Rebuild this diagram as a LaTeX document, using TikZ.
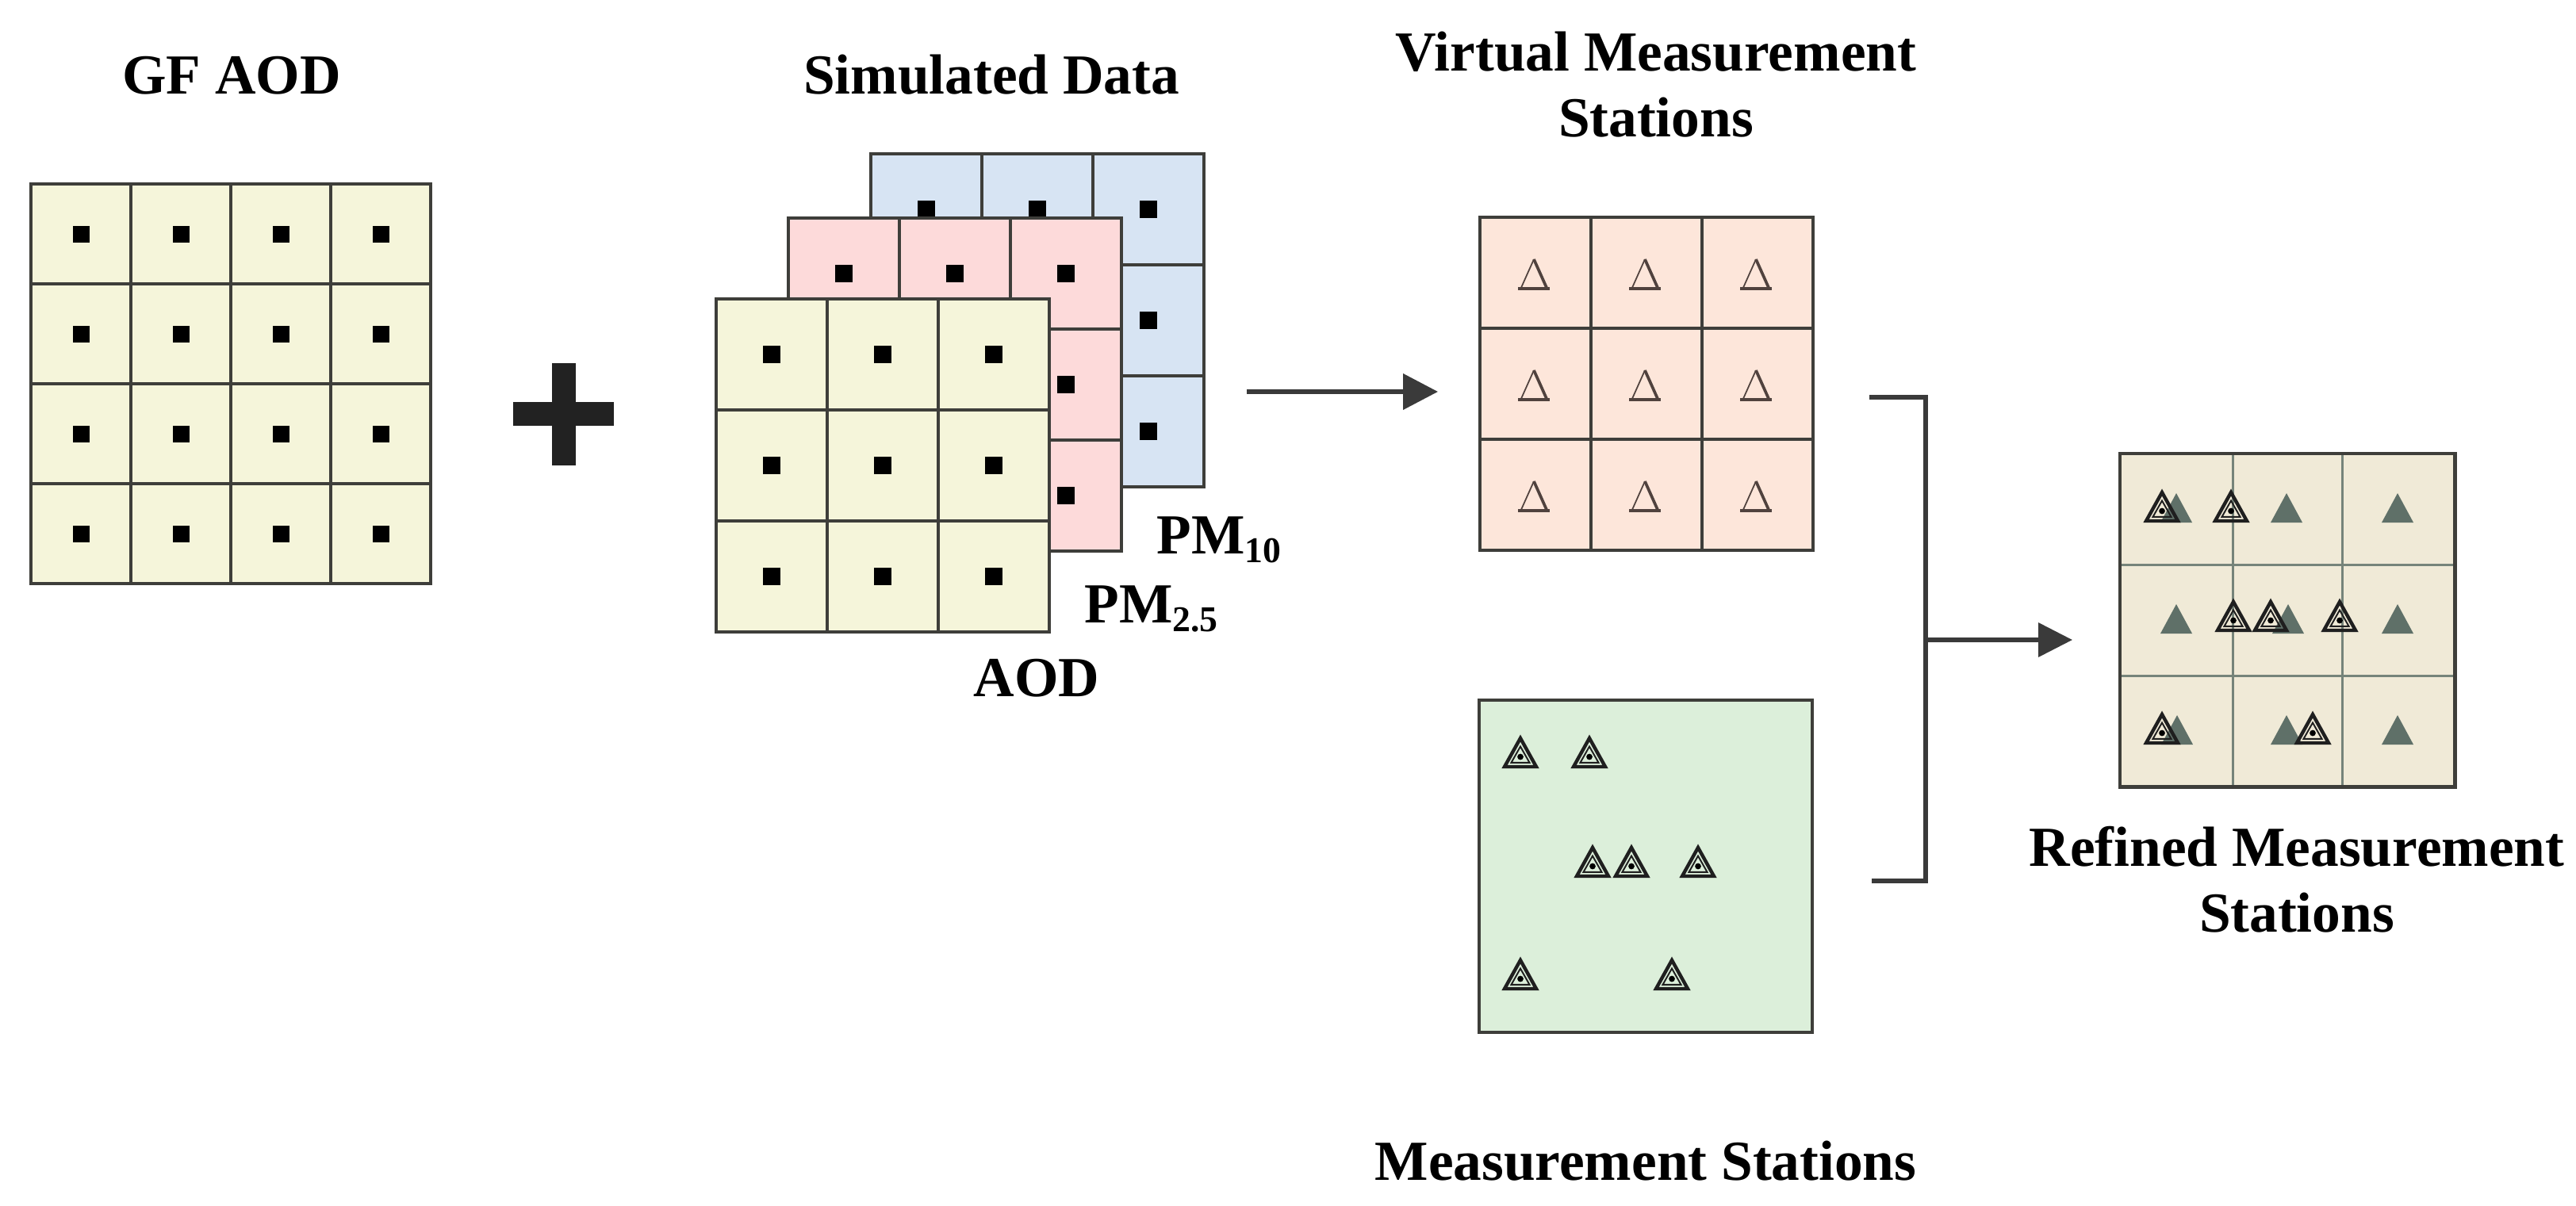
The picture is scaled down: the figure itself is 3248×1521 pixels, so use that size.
\documentclass[tikz,border=0pt]{standalone}
\usepackage{fontspec}
\setmainfont{Liberation Serif}
\usetikzlibrary{arrows.meta}
\definecolor{edge}{RGB}{62,62,58}
\definecolor{gfyellow}{RGB}{245,245,218}
\definecolor{simpink}{RGB}{253,218,218}
\definecolor{simblue}{RGB}{215,228,243}
\definecolor{virtpeach}{RGB}{253,230,218}
\definecolor{msgreen}{RGB}{220,239,218}
\definecolor{refbeige}{RGB}{240,234,215}
\definecolor{refline}{RGB}{118,132,122}
\definecolor{trifill}{RGB}{95,112,104}
\definecolor{arrowgray}{RGB}{58,58,58}
\definecolor{plusgray}{RGB}{34,34,34}
\definecolor{deltacol}{RGB}{80,66,62}
\newcommand\lowsub[1]{\raisebox{-3.4pt}{\fontsize{13}{13}\selectfont #1}}
\begin{document}
\begin{tikzpicture}[x=0.01cm,y=-0.01cm,
  lbl/.style={font=\fontsize{20.3}{24}\selectfont\bfseries, inner sep=0, text=black},
  gridbox/.style={draw=edge, line width=1.2pt, inner sep=0, outer sep=0},
  gridline/.style={draw=edge, line width=1.1pt},
  dotmark/.style={fill=black},
  conn/.style={draw=arrowgray, line width=1.5pt, -{Triangle[length=12.5pt,width=12.7pt]}},
  bracket/.style={draw=arrowgray, line width=1.7pt},
  ftri/.pic={\fill[trifill] (-20,0) -- (20,0) -- (0,-37) -- cycle;},
  vdelta/.pic={\draw[deltacol, line width=0.5pt] (-17,19) -- (0,-19);
               \draw[deltacol, line width=1.05pt, line join=miter] (0,-19) -- (17,19);
               \draw[deltacol, line width=1.2pt] (-20,18) -- (20,18);},
  stn/.pic={\draw[black!88, line width=1.25pt, line join=miter] (-20,0) -- (20,0) -- (0,-36) -- cycle;
            \draw[black!88, line width=0.55pt] (-11.5,-5.2) -- (11.5,-5.2) -- (0,-25.5) -- cycle;
            \fill[black] (0,-12.5) circle (1.1pt);}
]
\useasboundingbox (0,0) rectangle (3248,1521);
\fill[white] (0,0) rectangle (3248,1521);

% ---------- GF AOD grid ----------
\node[gridbox, fill=gfyellow, minimum width=5.04cm, minimum height=5.04cm, anchor=north west] (gf) at (39,232) {};
\foreach \k in {1,2,3} {
  \draw[gridline] ({39+126*\k},232) -- ({39+126*\k},736);
  \draw[gridline] (39,{232+126*\k}) -- (543,{232+126*\k});
}
\foreach \i in {0,1,2,3} \foreach \j in {0,1,2,3}
  \fill[dotmark] ({39+63+126*\i-10.5},{232+63+126*\j-10.5}) rectangle ++(21,21);
\node[lbl, anchor=base] (tgf) at (292,118) {GF AOD};

% ---------- plus ----------
\fill[plusgray] (647,507) rectangle (774,537);
\fill[plusgray] (696,458) rectangle (726,587);

% ---------- simulated data stack ----------
% blue (PM10)
\node[gridbox, fill=simblue, minimum width=4.2cm, minimum height=4.2cm, anchor=north west] (simb) at (1098,194) {};
\foreach \k in {1,2} {
  \draw[gridline] ({1098+140*\k},194) -- ({1098+140*\k},614);
  \draw[gridline] (1098,{194+140*\k}) -- (1518,{194+140*\k});
}
\foreach \i in {0,1,2} \foreach \j in {0,1,2}
  \fill[dotmark] ({1098+70+140*\i-11},{194+70+140*\j-11}) rectangle ++(22,22);
% pink (PM2.5)
\node[gridbox, fill=simpink, minimum width=4.2cm, minimum height=4.2cm, anchor=north west] (simp) at (994,275) {};
\foreach \k in {1,2} {
  \draw[gridline] ({994+140*\k},275) -- ({994+140*\k},695);
  \draw[gridline] (994,{275+140*\k}) -- (1414,{275+140*\k});
}
\foreach \i in {0,1,2} \foreach \j in {0,1,2}
  \fill[dotmark] ({994+70+140*\i-11},{275+70+140*\j-11}) rectangle ++(22,22);
% yellow (AOD)
\node[gridbox, fill=gfyellow, minimum width=4.2cm, minimum height=4.2cm, anchor=north west] (sima) at (903,377) {};
\foreach \k in {1,2} {
  \draw[gridline] ({903+140*\k},377) -- ({903+140*\k},797);
  \draw[gridline] (903,{377+140*\k}) -- (1323,{377+140*\k});
}
\foreach \i in {0,1,2} \foreach \j in {0,1,2}
  \fill[dotmark] ({903+70+140*\i-11},{377+70+140*\j-11}) rectangle ++(22,22);

\node[lbl, anchor=base] (tsim) at (1250,118) {Simulated Data};
\node[lbl, anchor=base west] (tpm10) at (1458,698) {PM\lowsub{10}};
\node[lbl, anchor=base west] (tpm25) at (1367,785) {PM\lowsub{2.5}};
\node[lbl, anchor=base west] (taod) at (1227,878) {AOD};

% ---------- virtual measurement stations ----------
\node[gridbox, fill=virtpeach, minimum width=4.2cm, minimum height=4.2cm, anchor=north west] (virt) at (1866,274) {};
\foreach \k in {1,2} {
  \draw[gridline] ({1866+140*\k},274) -- ({1866+140*\k},694);
  \draw[gridline] (1866,{274+140*\k}) -- (2286,{274+140*\k});
}
\foreach \i in {0,1,2} \foreach \j in {0,1,2}
  \pic at ({1866+68+140*\i},{274+72+140*\j}) {vdelta};
\node[lbl, anchor=base] (tvirt1) at (2088,90) {Virtual Measurement};
\node[lbl, anchor=base] (tvirt2) at (2088,172) {Stations};

% ---------- measurement stations ----------
\node[gridbox, fill=msgreen, minimum width=4.2cm, minimum height=4.19cm, anchor=north west] (meas) at (1865,883) {};
\foreach \dx/\dy in {52/84,139/84,143/222,192/222,276/222,52/364,243/364}
  \pic at ({1865+\dx},{883+\dy}) {stn};
\node[lbl, anchor=base] (tmeas) at (2075,1488) {Measurement Stations};

% ---------- refined measurement stations ----------
\node[gridbox, fill=refbeige, minimum width=4.22cm, minimum height=4.2cm, anchor=north west] (refd) at (2673,572) {};
\draw[refline, line width=0.85pt] (2815,572) -- (2815,992);
\draw[refline, line width=0.85pt] (2953,572) -- (2953,992);
\draw[refline, line width=0.85pt] (2673,712) -- (3095,712);
\draw[refline, line width=0.85pt] (2673,852) -- (3095,852);
\draw[edge, line width=1.3pt] (refd.north west) rectangle (refd.south east);
\foreach \dx/\dy in {71/87,210/87,350/87,71/227,212/227,350/227,72/367,210/367,350/367}
  \pic at ({2673+\dx},{572+\dy}) {ftri};
\foreach \dx/\dy in {53/85,140/85,143/223,190/223,277/223,53/365,243/365}
  \pic at ({2673+\dx},{572+\dy}) {stn};
\node[lbl, anchor=base] (tref1) at (2896,1092) {Refined Measurement};
\node[lbl, anchor=base] (tref2) at (2896,1175) {Stations};

% ---------- connectors ----------
\coordinate (a1s) at (1572,494);
\coordinate (a1e) at (1813,494);
\draw[conn] (a1s) -- (a1e);

\coordinate (bt0) at (2357,501);
\coordinate (bt1) at (2428,501);
\coordinate (bb1) at (2428,1111);
\coordinate (bb0) at (2360,1111);
\draw[bracket] (bt0) -- (bt1) -- (bb1) -- (bb0);
\coordinate (a2s) at (2428,807);
\coordinate (a2e) at (2613,807);
\draw[conn, line width=1.7pt, -{Triangle[length=12.2pt,width=12pt]}] (a2s) -- (a2e);
\end{tikzpicture}
\end{document}
